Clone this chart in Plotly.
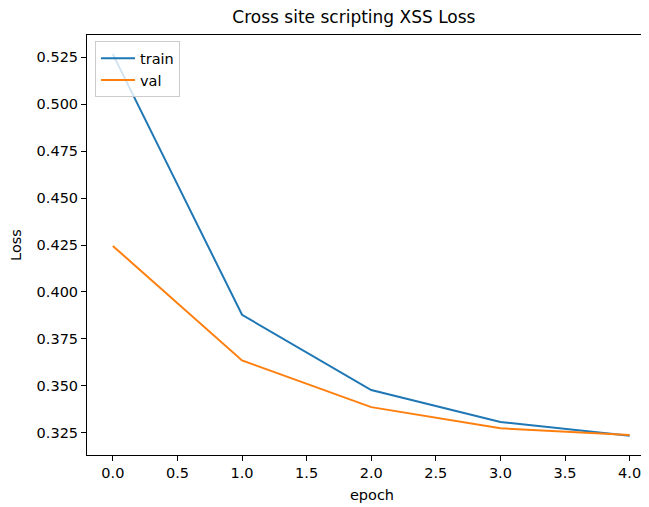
import plotly.graph_objects as go

epochs = [0, 1, 2, 3, 4]
train_loss = [0.5267, 0.3878, 0.3477, 0.3307, 0.3233]
val_loss = [0.4245, 0.3635, 0.3386, 0.3273, 0.3238]
x_ticks = [0.0, 0.5, 1.0, 1.5, 2.0, 2.5, 3.0, 3.5, 4.0]
y_ticks = [0.325, 0.350, 0.375, 0.400, 0.425, 0.450, 0.475, 0.500, 0.525]

font = "DejaVu Sans, sans-serif"
fs = 14.5
fig = go.Figure()
fig.add_trace(go.Scatter(x=epochs, y=train_loss, mode="lines", name="train",
                         line=dict(color="#1f77b4", width=2)))
fig.add_trace(go.Scatter(x=epochs, y=val_loss, mode="lines", name="val",
                         line=dict(color="#ff7f0e", width=2)))

fig.update_layout(
    width=649, height=507,
    margin=dict(l=79, r=0, t=27, b=60),
    paper_bgcolor="white", plot_bgcolor="white",
    font=dict(family=font, size=fs, color="#000000"),
    title=dict(text="Cross site scripting XSS Loss", x=0.533, xanchor="center",
               y=1 - 9 / 507, yanchor="middle",
               font=dict(family=font, size=17, color="#000000")),
    showlegend=True,
    legend=dict(x=0.014, y=0.985, xanchor="left", yanchor="top",
                bgcolor="rgba(255,255,255,0.8)", bordercolor="#cccccc", borderwidth=1,
                font=dict(family=font, size=fs, color="#000000"),
                tracegroupgap=0, itemwidth=34),
)
fig.update_xaxes(range=[-0.2, 4.212], tickvals=x_ticks,
                 ticktext=[f"{v:.1f}" for v in x_ticks],
                 showgrid=False, zeroline=False, showline=True, linecolor="black",
                 linewidth=1, mirror=True, ticks="outside", ticklen=5, tickwidth=1,
                 tickcolor="black",
                 title=dict(text="epoch", font=dict(family=font, size=fs), standoff=9))
fig.update_yaxes(range=[0.3131, 0.5369], tickvals=y_ticks,
                 ticktext=[f"{v:.3f}" for v in y_ticks],
                 showgrid=False, zeroline=False, showline=True, linecolor="black",
                 linewidth=1, ticks="outside", ticklen=5, tickwidth=1, tickcolor="black",
                 title=dict(text="Loss", font=dict(family=font, size=fs), standoff=14))

fig.write_html("out.html")
